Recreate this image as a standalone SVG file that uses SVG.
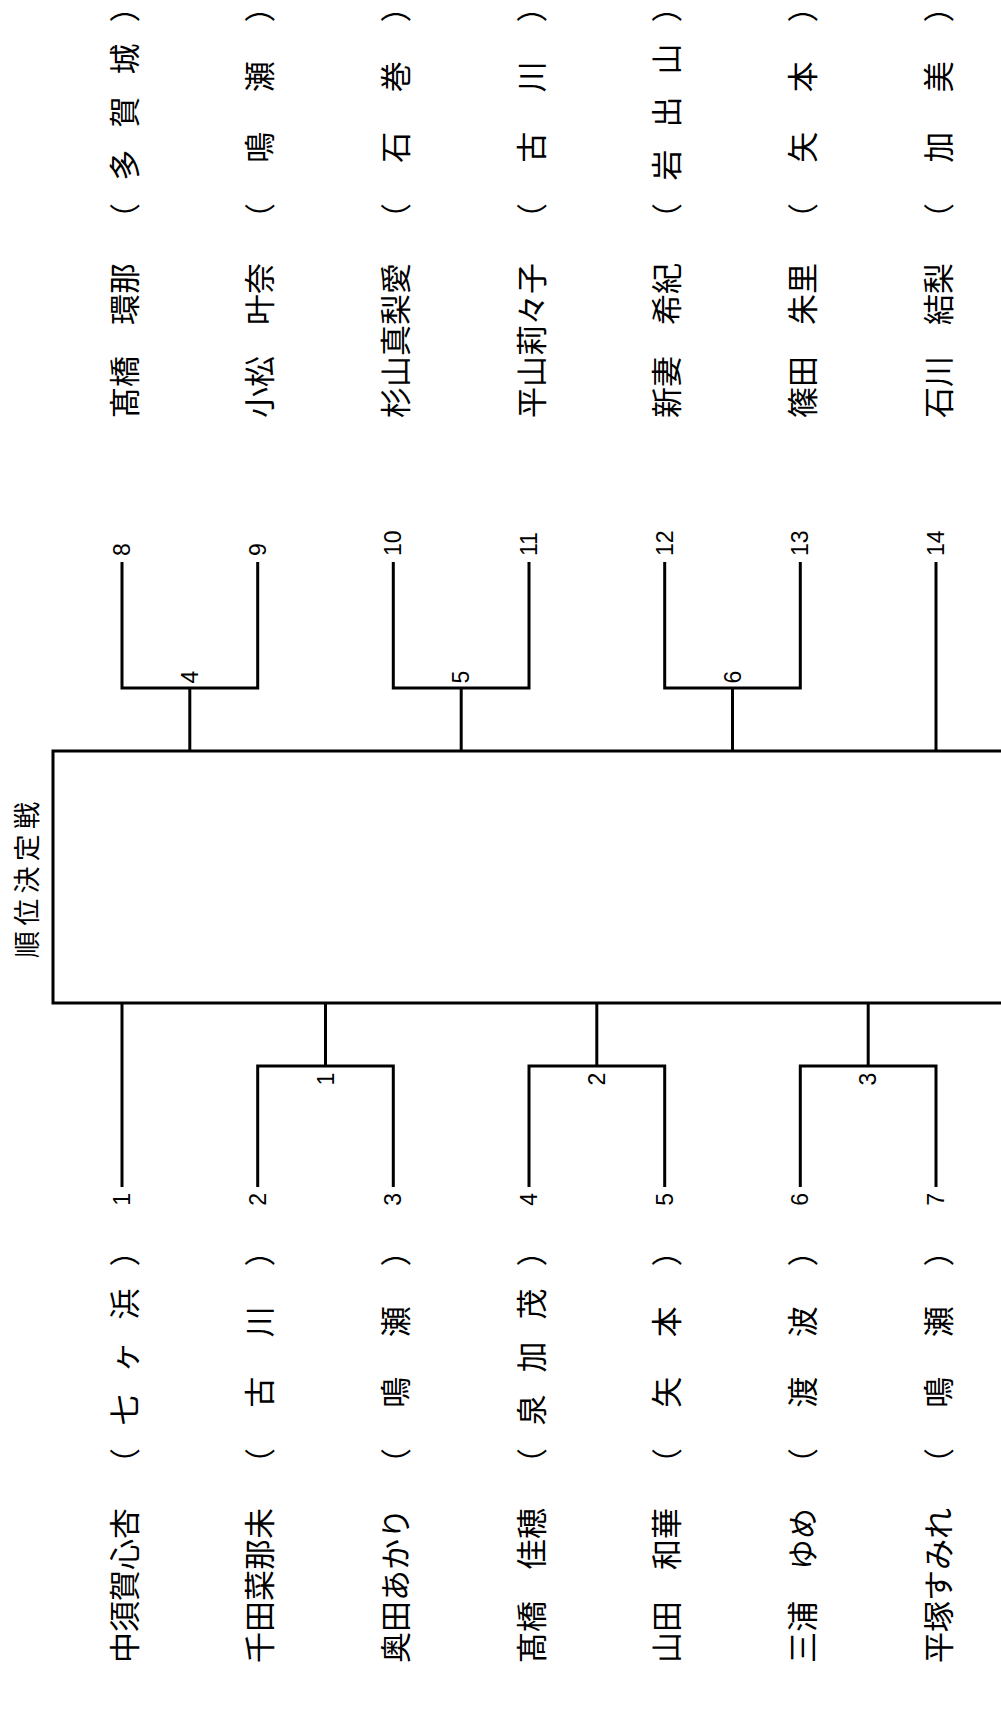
<svg xmlns="http://www.w3.org/2000/svg" width="1001" height="1731" viewBox="0 0 1001 1731">
<style>
.ln{fill:none;stroke:#000;stroke-width:3;stroke-linejoin:miter}
.nm{font-family:"Noto Sans CJK JP","Noto Sans CJK SC",sans-serif;font-size:31px;dominant-baseline:central;fill:#000}
.num{font-family:"Liberation Sans",Arial,sans-serif;font-size:23px;dominant-baseline:central;fill:#000}
.ttl{font-family:"Noto Sans CJK JP","Noto Sans CJK SC",sans-serif;font-size:27px;dominant-baseline:central;fill:#000}
.mid{text-anchor:middle}
.end{text-anchor:end}
</style>
<rect width="1001" height="1731" fill="#fff"/>

<g id="final">
<path class="ln" d="M1004,751 H53 V1003 H1004"/>
<text class="ttl mid" transform="translate(25,0) rotate(-90)" x="-880" textLength="156" lengthAdjust="spacing">順位決定戦</text>
</g>

<g id="connectors">
<path class="ln" d="M122,562 V688 H257.7 V562 M189.8,688 V751"/>
<path class="ln" d="M393.3,562 V688 H529 V562 M461.2,688 V751"/>
<path class="ln" d="M664.7,562 V688 H800.3 V562 M732.5,688 V751"/>
<path class="ln" d="M936,562 V751"/>
<path class="ln" d="M122,1003 V1187"/>
<path class="ln" d="M257.7,1187 V1066 H393.3 V1187 M325.5,1066 V1003"/>
<path class="ln" d="M529,1187 V1066 H664.7 V1187 M596.8,1066 V1003"/>
<path class="ln" d="M800.3,1187 V1066 H936 V1187 M868.2,1066 V1003"/>
</g>

<g id="m1"><text class="num mid" transform="translate(325.5,0) rotate(-90)" x="-1079">1</text></g>
<g id="m2"><text class="num mid" transform="translate(596.8,0) rotate(-90)" x="-1079">2</text></g>
<g id="m3"><text class="num mid" transform="translate(868.2,0) rotate(-90)" x="-1079">3</text></g>
<g id="m4"><text class="num mid" transform="translate(189.8,0) rotate(-90)" x="-677">4</text></g>
<g id="m5"><text class="num mid" transform="translate(461.2,0) rotate(-90)" x="-677">5</text></g>
<g id="m6"><text class="num mid" transform="translate(732.5,0) rotate(-90)" x="-677">6</text></g>

<g id="p1" transform="translate(122,0) rotate(-90)">
<text class="nm" x="-1663">中須賀心杏</text>
<text class="nm mid" x="-1463.5 -1410 -1357 -1304 -1251">（七ヶ浜）</text>
<text class="num end" x="-1193">1</text>
</g>
<g id="p2" transform="translate(257.7,0) rotate(-90)">
<text class="nm" x="-1663">千田菜那未</text>
<text class="nm mid" x="-1463.5 -1392.3 -1321.7 -1251">（古川）</text>
<text class="num end" x="-1193">2</text>
</g>
<g id="p3" transform="translate(393.3,0) rotate(-90)">
<text class="nm" x="-1663">奥田あかり</text>
<text class="nm mid" x="-1463.5 -1392.3 -1321.7 -1251">（鳴瀬）</text>
<text class="num end" x="-1193">3</text>
</g>
<g id="p4" transform="translate(529,0) rotate(-90)">
<text class="nm" x="-1663">髙橋　佳穂</text>
<text class="nm mid" x="-1463.5 -1410 -1357 -1304 -1251">（泉加茂）</text>
<text class="num end" x="-1193">4</text>
</g>
<g id="p5" transform="translate(664.7,0) rotate(-90)">
<text class="nm" x="-1663">山田　和華</text>
<text class="nm mid" x="-1463.5 -1392.3 -1321.7 -1251">（矢本）</text>
<text class="num end" x="-1193">5</text>
</g>
<g id="p6" transform="translate(800.3,0) rotate(-90)">
<text class="nm" x="-1663">三浦　ゆめ</text>
<text class="nm mid" x="-1463.5 -1392.3 -1321.7 -1251">（渡波）</text>
<text class="num end" x="-1193">6</text>
</g>
<g id="p7" transform="translate(936,0) rotate(-90)">
<text class="nm" x="-1663">平塚すみれ</text>
<text class="nm mid" x="-1463.5 -1392.3 -1321.7 -1251">（鳴瀬）</text>
<text class="num end" x="-1193">7</text>
</g>

<g id="p8" transform="translate(122,0) rotate(-90)">
<text class="num" x="-556">8</text>
<text class="nm" x="-418">髙橋　環那</text>
<text class="nm mid" x="-218.5 -165 -112 -59 -7">（多賀城）</text>
</g>
<g id="p9" transform="translate(257.7,0) rotate(-90)">
<text class="num" x="-556">9</text>
<text class="nm" x="-418">小松　叶奈</text>
<text class="nm mid" x="-218.5 -147.3 -76.7 -7">（鳴瀬）</text>
</g>
<g id="p10" transform="translate(393.3,0) rotate(-90)">
<text class="num" x="-556">10</text>
<text class="nm" x="-418">杉山真梨愛</text>
<text class="nm mid" x="-218.5 -147.3 -76.7 -7">（石巻）</text>
</g>
<g id="p11" transform="translate(529,0) rotate(-90)">
<text class="num" x="-556">11</text>
<text class="nm" x="-418">平山莉々子</text>
<text class="nm mid" x="-218.5 -147.3 -76.7 -7">（古川）</text>
</g>
<g id="p12" transform="translate(664.7,0) rotate(-90)">
<text class="num" x="-556">12</text>
<text class="nm" x="-418">新妻　希紀</text>
<text class="nm mid" x="-218.5 -165 -112 -59 -7">（岩出山）</text>
</g>
<g id="p13" transform="translate(800.3,0) rotate(-90)">
<text class="num" x="-556">13</text>
<text class="nm" x="-418">篠田　朱里</text>
<text class="nm mid" x="-218.5 -147.3 -76.7 -7">（矢本）</text>
</g>
<g id="p14" transform="translate(936,0) rotate(-90)">
<text class="num" x="-556">14</text>
<text class="nm" x="-418">石川　結梨</text>
<text class="nm mid" x="-218.5 -147.3 -76.7 -7">（加美）</text>
</g>
</svg>
